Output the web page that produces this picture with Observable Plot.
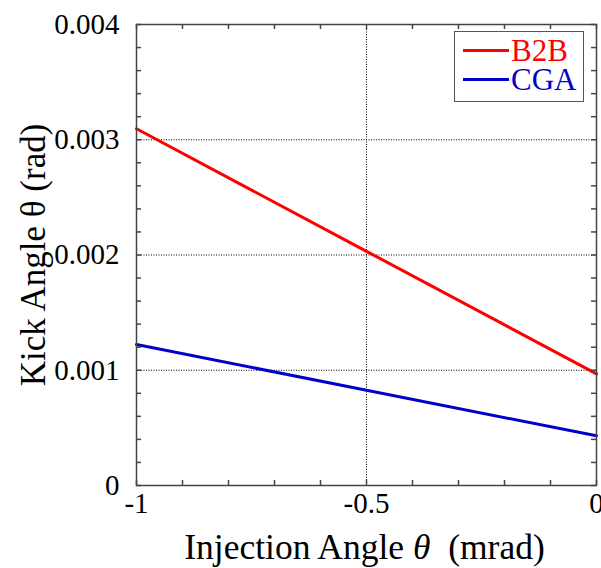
<!DOCTYPE html>
<html><head><meta charset="utf-8">
<script src="https://cdn.jsdelivr.net/npm/d3@7"></script>
<script src="https://cdn.jsdelivr.net/npm/@observablehq/plot@0.6"></script>
<style>
body{margin:0;background:#fff}
#wrap{position:relative;width:601px;height:568px}
#legend{position:absolute;left:454px;top:31px;width:130px;height:71px;border:1.5px solid #555;background:#fff;box-sizing:border-box;font-family:'Liberation Serif','Times New Roman',serif}
.row{position:absolute;left:0;height:28px;display:flex;align-items:center;white-space:nowrap}
.sw{display:inline-block;margin-left:8px;width:46px;height:3px}
.lab{margin-left:2px;font-size:31px;line-height:0.88}
</style>
</head><body><div id="wrap"></div>
<script>
const injection = [-1, -0.5, 0];
const b2b = [0.003095, 0.002032, 0.000969];
const cga = [0.001223, 0.000827, 0.000431];
const seriesNames = ["B2B", "CGA"];
const seriesColors = ["#ff0000", "#0000cc"];
const xTickLabels = [-1, -0.5, 0];
const yTickLabels = [0, 0.001, 0.002, 0.003, 0.004];
const xGrid = [-0.5];
const yGrid = [0.001, 0.002, 0.003];
const xMinor = d3.range(-10, 1).map(i => i / 10);
const yMinor = d3.range(0, 21).map(i => i * 0.0002);
const xTitle = "Injection Angle θ  (mrad)";
const yTitle = "Kick Angle θ (rad)";

const rows = [];
[b2b, cga].forEach((vals, s) => vals.forEach((v, i) => rows.push({series: seriesNames[s], x: injection[i], y: v})));

const W = 601, H = 568, mL = 136, mR = 5, mT = 24, mB = 83;
const innerW = W - mL - mR, innerH = H - mT - mB;
const tickStyle = {stroke: "#444", strokeWidth: 1.5};

const chart = Plot.plot({
  width: W, height: H,
  marginLeft: mL, marginRight: mR, marginTop: mT, marginBottom: mB,
  x: {domain: [-1, 0]},
  y: {domain: [0, 0.004]},
  color: {domain: seriesNames, range: seriesColors},
  style: {fontFamily: "'Liberation Serif','Times New Roman',serif", fontSize: "29px", color: "#000", background: "#fff", overflow: "visible"},
  marks: [
    Plot.ruleY(yGrid, {stroke: "#000", strokeWidth: 1, strokeDasharray: "1,1.5"}),
    Plot.ruleX(xGrid, {stroke: "#000", strokeWidth: 1, strokeDasharray: "1,1.5"}),
    Plot.line(rows, {x: "x", y: "y", z: "series", stroke: "series", strokeWidth: 3}),
    Plot.ruleX(xMinor, {...tickStyle, insetTop: innerH - 5}),
    Plot.ruleX(xMinor, {...tickStyle, insetBottom: innerH - 5}),
    Plot.ruleY(yMinor, {...tickStyle, insetRight: innerW - 5}),
    Plot.ruleY(yMinor, {...tickStyle, insetLeft: innerW - 5}),
    Plot.frame({stroke: "#444", strokeWidth: 1.5}),
    Plot.axisX({ticks: xTickLabels, tickSize: 0, tickPadding: 7, tickFormat: d => String(d), label: null}),
    Plot.axisY({ticks: yTickLabels, tickSize: 0, tickPadding: 17, tickFormat: d => d === 0 ? "0" : d.toFixed(3), label: null}),
    Plot.text([xTitle], {text: d => d, frameAnchor: "bottom", dy: 73, dx: -2, lineAnchor: "bottom", textAnchor: "middle", fontSize: 35.5, fill: "#000"}),
    Plot.text([yTitle], {text: d => d, frameAnchor: "left", rotate: -90, dx: -92, lineAnchor: "bottom", textAnchor: "middle", fontSize: 35, fill: "#000"})
  ]
});
const wrap = document.getElementById("wrap");
wrap.appendChild(chart);

// italic theta in x title
d3.select(chart).selectAll("text").each(function() {
  if (this.textContent === xTitle) {
    const parts = xTitle.split("θ");
    const t = d3.select(this);
    t.text(null);
    t.append("tspan").text(parts[0]);
    t.append("tspan").attr("font-style", "italic").text("θ");
    t.append("tspan").style("white-space", "pre").text(parts[1]);
  }
});

// legend
const legend = document.createElement("div");
legend.id = "legend";
seriesNames.forEach((name, i) => {
  const r = document.createElement("div");
  r.className = "row";
  r.style.top = (4.2 + i * 29.3) + "px";
  r.innerHTML = `<span class="sw" style="background:${seriesColors[i]}"></span><span class="lab" style="color:${seriesColors[i]}">${name}</span>`;
  legend.appendChild(r);
});
wrap.appendChild(legend);
</script>
</body></html>
